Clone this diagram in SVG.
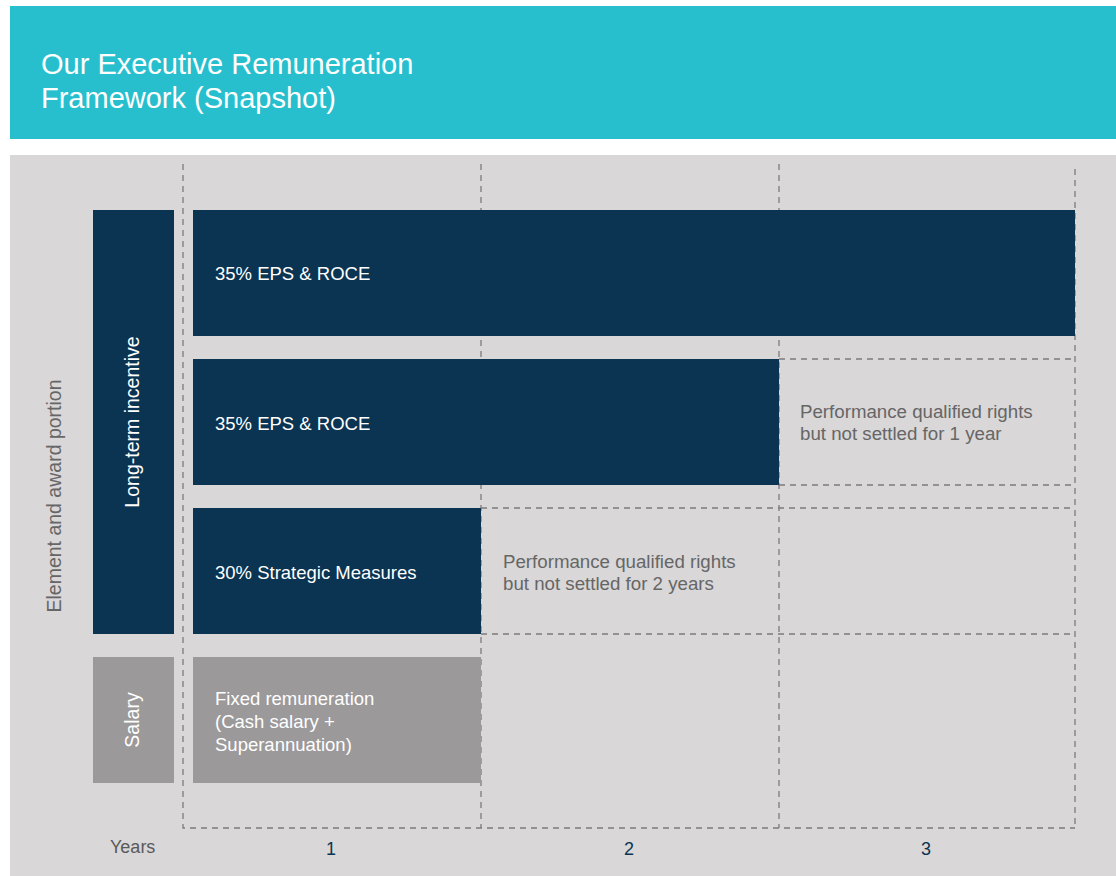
<svg xmlns="http://www.w3.org/2000/svg" width="1116" height="876" viewBox="0 0 1116 876">
<style>
text{font-family:"Liberation Sans",Arial,Helvetica,sans-serif}
.title{fill:#fff;font-size:29px}
.bar{fill:#0A3452}
.sal{fill:#9B999A}
.lbl{fill:#fff;font-size:18.5px}
.vlbl{fill:#fff;font-size:19.5px}
.note{fill:#666;font-size:18.7px}
.vnote{fill:#666;font-size:19.5px}
.axis{fill:#5a5a5a;font-size:18px}
.num{fill:#0A3452;font-size:18px}
.dash{stroke:#7d7b7c;stroke-width:1.3;stroke-dasharray:6 5;fill:none}
</style>
<rect width="1116" height="876" fill="#fff"/>
<g id="header">
<rect x="10" y="6" width="1106" height="133" fill="#27BFCE"/>
<text class="title" x="41" y="74">Our Executive Remuneration</text>
<text class="title" x="41" y="108">Framework (Snapshot)</text>
</g>
<rect id="panel" x="10" y="155" width="1106" height="721" fill="#D9D7D8"/>
<g id="connectors">
<path class="dash" d="M183 164V828H1075M481 164V828M779 164V828M1075 169V828"/>
<path class="dash" d="M779 359H1075M779 485H1075M481 508H1075M481 634H1075"/>
</g>
<g id="lti-label">
<rect class="bar" x="93" y="210" width="81" height="424"/>
<text class="vlbl" transform="translate(139 422) rotate(-90)" text-anchor="middle">Long-term incentive</text>
</g>
<g id="bar1">
<rect class="bar" x="193" y="210" width="882" height="126"/>
<text class="lbl" x="215" y="280">35% EPS &amp; ROCE</text>
</g>
<g id="bar2">
<rect class="bar" x="193" y="359" width="586" height="126"/>
<text class="lbl" x="215" y="430">35% EPS &amp; ROCE</text>
</g>
<g id="bar3">
<rect class="bar" x="193" y="508" width="288" height="126"/>
<text class="lbl" x="215" y="579">30% Strategic Measures</text>
</g>
<g id="note1">
<text class="note" x="800" y="418">Performance qualified rights</text>
<text class="note" x="800" y="440">but not settled for 1 year</text>
</g>
<g id="note2">
<text class="note" x="503" y="568">Performance qualified rights</text>
<text class="note" x="503" y="590">but not settled for 2 years</text>
</g>
<g id="salary-label">
<rect class="sal" x="93" y="657" width="81" height="126"/>
<text class="vlbl" transform="translate(139 720) rotate(-90)" text-anchor="middle">Salary</text>
</g>
<g id="salary-bar">
<rect class="sal" x="193" y="657" width="288" height="126"/>
<text class="lbl" x="215" y="705">Fixed remuneration</text>
<text class="lbl" x="215" y="728">(Cash salary +</text>
<text class="lbl" x="215" y="751">Superannuation)</text>
</g>
<g id="axis">
<text class="vnote" transform="translate(61 496) rotate(-90)" text-anchor="middle">Element and award portion</text>
<text class="axis" x="110" y="853">Years</text>
<text class="num" x="331" y="855" text-anchor="middle">1</text>
<text class="num" x="629" y="855" text-anchor="middle">2</text>
<text class="num" x="926" y="855" text-anchor="middle">3</text>
</g>
</svg>
